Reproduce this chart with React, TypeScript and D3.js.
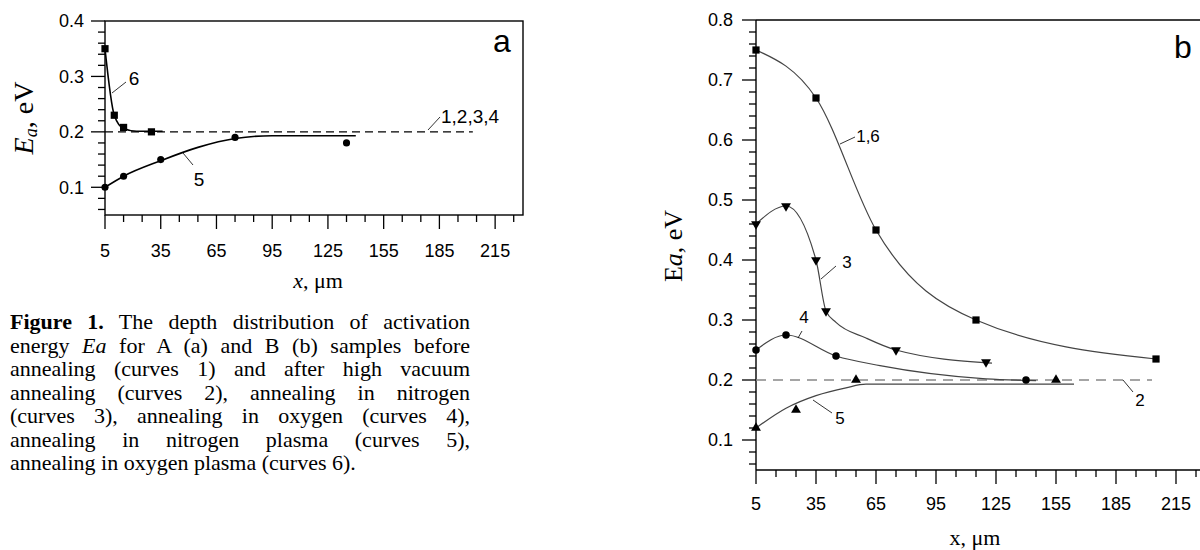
import React, { useLayoutEffect, useRef } from 'react';
import * as d3 from 'd3';

// tick labels shared by both panels
const xTickValues = [5, 35, 65, 95, 125, 155, 185, 215];
const yTicksA = [0.1, 0.2, 0.3, 0.4];
const yTicksB = [0.1, 0.2, 0.3, 0.4, 0.5, 0.6, 0.7, 0.8];

// panel a: curve 6 (squares) and curve 5 (circles)
const a6X = [5, 10, 15, 30];
const a6Y = [0.35, 0.23, 0.208, 0.2];
const a6CurveX = [5, 10, 15, 22, 36];
const a6CurveY = [0.35, 0.23, 0.206, 0.201, 0.201];
const a5X = [5, 15, 35, 75, 135];
const a5Y = [0.1, 0.12, 0.15, 0.19, 0.18];
const a5CurveX = [5, 15, 35, 55, 75, 95, 140];
const a5CurveY = [0.1, 0.12, 0.148, 0.172, 0.188, 0.193, 0.193];
const aRefX = [5, 203];
const aRefY = [0.2, 0.2];

// panel b: curves 1,6 / 3 / 4 / 5 and reference line 2
const b16X = [5, 35, 65, 115, 205];
const b16Y = [0.75, 0.67, 0.45, 0.3, 0.235];
const b3X = [5, 20, 35, 40, 75, 120];
const b3Y = [0.46, 0.49, 0.4, 0.315, 0.25, 0.23];
const b3CurveX = [5, 20, 35, 40, 45, 60, 75, 123];
const b3CurveY = [0.46, 0.49, 0.4, 0.315, 0.296, 0.27, 0.25, 0.228];
const b4X = [5, 20, 45, 140];
const b4Y = [0.25, 0.275, 0.24, 0.2];
const b4CurveX = [5, 20, 45, 67, 120, 145];
const b4CurveY = [0.25, 0.275, 0.24, 0.224, 0.202, 0.199];
const b5X = [5, 25, 55, 155];
const b5Y = [0.12, 0.15, 0.2, 0.2];
const b5CurveX = [5, 20, 35, 50, 60, 164];
const b5CurveY = [0.12, 0.153, 0.174, 0.187, 0.193, 0.193];
const bRefX = [5, 203];
const bRefY = [0.2, 0.2];

const captionLines = [
  [{ t: 'Figure 1.', b: true }, { t: ' The depth distribution of activation' }],
  [{ t: 'energy ' }, { t: 'Ea', i: true }, { t: ' for A (a) and B (b) samples before' }],
  [{ t: 'annealing (curves 1) and after high vacuum' }],
  [{ t: 'annealing (curves 2), annealing in nitrogen' }],
  [{ t: '(curves 3), annealing in oxygen (curves 4),' }],
  [{ t: 'annealing in nitrogen plasma (curves 5),' }],
  [{ t: 'annealing in oxygen plasma (curves 6).' }],
];

const SANS = '"Liberation Sans", Arial, sans-serif';
const SERIF = '"Liberation Serif", "Times New Roman", serif';

const zip = (xs: number[], ys: number[]) => xs.map((x, i) => [x, ys[i]] as [number, number]);

const minorX = d3.range(5, 231, 10);
const minorYA = d3.range(6, 41, 2).map(v => v / 100);
const minorYB = d3.range(6, 81, 2).map(v => v / 100);

const Markers = ({ pts, x, y, type, rot = 0, size }: any) => {
  const p = d3.symbol().type(type).size(size)()!;
  return (
    <g>
      {pts.map(([a, b]: [number, number], i: number) => (
        <path key={i} d={p} fill="#000" transform={`translate(${x(a)},${y(b)}) rotate(${rot})`} />
      ))}
    </g>
  );
};

const PanelA = () => {
  const x = d3.scaleLinear().domain([5, 230]).range([105, 523]);
  const y = d3.scaleLinear().domain([0.05, 0.4]).range([215, 21]);
  const line = d3.line<[number, number]>().x(d => x(d[0])).y(d => y(d[1])).curve(d3.curveMonotoneX);
  return (
    <g>
      <rect x={105} y={21} width={418} height={194} fill="none" stroke="#000" strokeWidth={1.4} />
      {minorX.map(v => (
        <line key={'mx' + v} x1={x(v)} x2={x(v)} y1={215} y2={xTickValues.includes(v) ? 229 : 222} stroke="#000" strokeWidth={1.3} />
      ))}
      {minorYA.map(v => (
        <line key={'my' + v} x1={yTicksA.some(t => Math.abs(t - v) < 1e-6) ? 91 : 98} x2={105} y1={y(v)} y2={y(v)} stroke="#000" strokeWidth={1.3} />
      ))}
      {xTickValues.map(v => (
        <text key={'xl' + v} x={x(v)} y={257} textAnchor="middle" fontFamily={SANS} fontSize={18}>{v}</text>
      ))}
      {yTicksA.map(v => (
        <text key={'yl' + v} x={84} y={y(v)} dy="0.35em" textAnchor="end" fontFamily={SANS} fontSize={18}>{v.toFixed(1)}</text>
      ))}
      <path d={line(zip(aRefX, aRefY))!} fill="none" stroke="#000" strokeWidth={1.3} strokeDasharray="8,5" />
      <path d={line(zip(a6CurveX, a6CurveY))!} fill="none" stroke="#000" strokeWidth={1.6} />
      <path d={line(zip(a5CurveX, a5CurveY))!} fill="none" stroke="#000" strokeWidth={1.6} />
      <Markers pts={zip(a6X, a6Y)} x={x} y={y} type={d3.symbolSquare} size={52} />
      <Markers pts={zip(a5X, a5Y)} x={x} y={y} type={d3.symbolCircle} size={40} />
      <line x1={112} y1={93} x2={126} y2={82} stroke="#000" strokeWidth={0.8} />
      <text x={134} y={78} dy="0.35em" textAnchor="middle" fontFamily={SANS} fontSize={19}>6</text>
      <line x1={183} y1={153} x2={193} y2={165} stroke="#000" strokeWidth={0.8} />
      <text x={199} y={179} dy="0.35em" textAnchor="middle" fontFamily={SANS} fontSize={19}>5</text>
      <line x1={428} y1={130} x2={440} y2={117} stroke="#000" strokeWidth={0.8} />
      <text x={441} y={123} fontFamily={SANS} fontSize={19}>1,2,3,4</text>
      <text x={502} y={52} textAnchor="middle" fontFamily={SANS} fontSize={32}>a</text>
      <text transform="translate(33,118) rotate(-90)" textAnchor="middle" fontFamily={SERIF} fontSize={28}>
        <tspan fontStyle="italic">E</tspan>
        <tspan fontStyle="italic" fontSize={18} dy={4}>a</tspan>
        <tspan dy={-4}>, eV</tspan>
      </text>
      <text x={318} y={288} textAnchor="middle" fontFamily={SERIF} fontSize={22}>
        <tspan fontStyle="italic">x</tspan>, μm
      </text>
    </g>
  );
};

const PanelB = () => {
  const x = d3.scaleLinear().domain([5, 230]).range([756, 1206]);
  const y = d3.scaleLinear().domain([0.05, 0.8]).range([470, 20]);
  const line = d3.line<[number, number]>().x(d => x(d[0])).y(d => y(d[1])).curve(d3.curveMonotoneX);
  const curve = '#444';
  return (
    <g>
      <line x1={756} x2={1206} y1={20} y2={20} stroke="#000" strokeWidth={1.4} />
      <line x1={756} x2={1206} y1={470} y2={470} stroke="#000" strokeWidth={1.4} />
      <line x1={756} x2={756} y1={20} y2={470} stroke="#000" strokeWidth={1.4} />
      {minorX.map(v => (
        <line key={'mx' + v} x1={x(v)} x2={x(v)} y1={470} y2={xTickValues.includes(v) ? 484 : 477} stroke="#000" strokeWidth={1.3} />
      ))}
      {minorYB.map(v => (
        <line key={'my' + v} x1={yTicksB.some(t => Math.abs(t - v) < 1e-6) ? 742 : 749} x2={756} y1={y(v)} y2={y(v)} stroke="#000" strokeWidth={1.3} />
      ))}
      {xTickValues.map(v => (
        <text key={'xl' + v} x={x(v)} y={510} textAnchor="middle" fontFamily={SANS} fontSize={18}>{v}</text>
      ))}
      {yTicksB.map(v => (
        <text key={'yl' + v} x={733} y={y(v)} dy="0.35em" textAnchor="end" fontFamily={SANS} fontSize={18}>{v.toFixed(1)}</text>
      ))}
      <path d={line(zip(bRefX, bRefY))!} fill="none" stroke="#888" strokeWidth={1.5} strokeDasharray="10,7" />
      <path d={line(zip(b16X, b16Y))!} fill="none" stroke={curve} strokeWidth={1.2} />
      <path d={line(zip(b3CurveX, b3CurveY))!} fill="none" stroke={curve} strokeWidth={1.2} />
      <path d={line(zip(b4CurveX, b4CurveY))!} fill="none" stroke={curve} strokeWidth={1.2} />
      <path d={line(zip(b5CurveX, b5CurveY))!} fill="none" stroke={curve} strokeWidth={1.2} />
      <Markers pts={zip(b16X, b16Y)} x={x} y={y} type={d3.symbolSquare} size={52} />
      <Markers pts={zip(b3X, b3Y)} x={x} y={y} type={d3.symbolTriangle} size={42} rot={180} />
      <Markers pts={zip(b4X, b4Y)} x={x} y={y} type={d3.symbolCircle} size={44} />
      <Markers pts={zip(b5X, b5Y)} x={x} y={y} type={d3.symbolTriangle} size={42} />
      <line x1={840} y1={144} x2={855} y2={137} stroke="#000" strokeWidth={0.8} />
      <text x={868} y={136} dy="0.35em" textAnchor="middle" fontFamily={SANS} fontSize={17}>1,6</text>
      <line x1={821} y1={279} x2={836} y2={266} stroke="#000" strokeWidth={0.8} />
      <text x={847} y={262} dy="0.35em" textAnchor="middle" fontFamily={SANS} fontSize={17}>3</text>
      <line x1={798} y1={338} x2={802} y2={331} stroke="#000" strokeWidth={0.8} />
      <text x={804} y={317} dy="0.35em" textAnchor="middle" fontFamily={SANS} fontSize={17}>4</text>
      <line x1={813} y1={400} x2={832} y2={413} stroke="#000" strokeWidth={0.8} />
      <text x={840} y={418} dy="0.35em" textAnchor="middle" fontFamily={SANS} fontSize={17}>5</text>
      <line x1={1123} y1={380} x2={1133} y2={392} stroke="#000" strokeWidth={0.8} />
      <text x={1140} y={400} dy="0.35em" textAnchor="middle" fontFamily={SANS} fontSize={17}>2</text>
      <text x={1183} y={58} textAnchor="middle" fontFamily={SANS} fontSize={32}>b</text>
      <text transform="translate(682,246) rotate(-90)" textAnchor="middle" fontFamily={SERIF} fontSize={26}>
        E<tspan fontStyle="italic">a</tspan>, eV
      </text>
      <text x={975} y={545} textAnchor="middle" fontFamily={SERIF} fontSize={22}>x, μm</text>
    </g>
  );
};

const Caption = () => {
  const ref = useRef<SVGGElement>(null);
  useLayoutEffect(() => {
    const g = ref.current;
    if (!g) return;
    g.querySelectorAll('text[data-justify]').forEach(node => {
      const t = node as SVGTextElement;
      t.setAttribute('word-spacing', '0');
      const len = t.getComputedTextLength();
      const spaces = (t.textContent || '').split(' ').length - 1;
      if (spaces > 0) t.setAttribute('word-spacing', String((460 - len) / spaces));
    });
  }, []);
  return (
    <g ref={ref} fontFamily={SERIF} fontSize={22} style={{ whiteSpace: 'pre' }}>
      {captionLines.map((segs, i) => (
        <text key={i} x={10} y={329 + i * 23.5} data-justify={i < captionLines.length - 1 ? 'y' : undefined}>
          {segs.map((s: any, j) => (
            <tspan key={j} fontWeight={s.b ? 'bold' : undefined} fontStyle={s.i ? 'italic' : undefined}>{s.t}</tspan>
          ))}
        </text>
      ))}
    </g>
  );
};

export default function App() {
  return (
    <svg width={1200} height={550} style={{ position: 'absolute', left: 0, top: 0, background: '#fff' }}>
      <rect width={1200} height={550} fill="#fff" />
      <PanelA />
      <Caption />
      <PanelB />
    </svg>
  );
}
